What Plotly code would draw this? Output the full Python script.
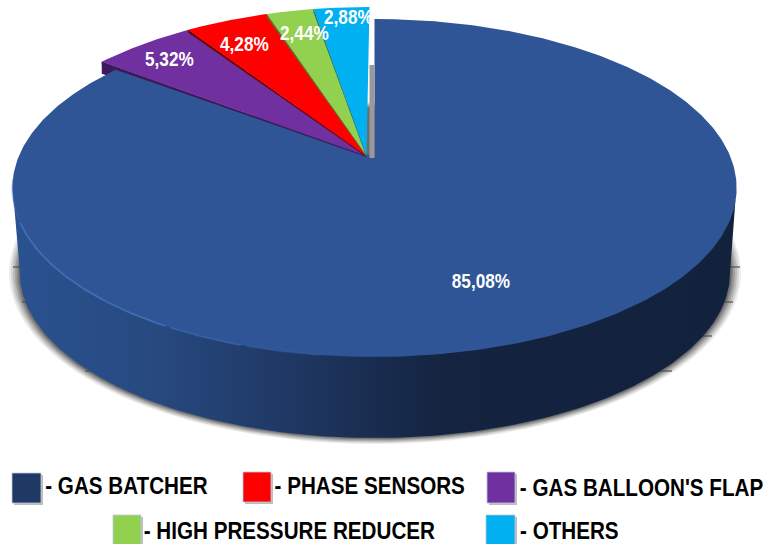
import numpy as np
import plotly.graph_objects as go

# ---- data (slices run anticlockwise from 12 o'clock)
categories = ["OTHERS", "HIGH PRESSURE REDUCER", "PHASE SENSORS", "GAS BALLOON'S FLAP"]
small_values = [2.88, 2.44, 4.28, 5.32]
main_value = 85.08
small_labels = ["2,88%", "2,44%", "4,28%", "5,32%"]
main_label = "85,08%"
small_colors = ["#00B0F0", "#92D050", "#FF0000", "#7030A0"]
small_edges = ["#00607F", "#4F7A28", "#7A0000", "#3C1A5C"]

legend_text = ["- GAS BATCHER", "- PHASE SENSORS", "- GAS BALLOON'S FLAP",
               "- HIGH PRESSURE REDUCER", "- OTHERS"]
legend_colors = ["#1F3864", "#FF0000", "#7030A0", "#92D050", "#00B0F0"]

# ---- projection of the disc (perspective view)
K = 0.1834
AX, BY = 356.0, 163.3
def proj(pct):
    t = np.radians(np.asarray(pct, float) * 3.6)
    u, v = -np.sin(t), np.cos(t)
    w = 1 + K * v
    return AX * u / w, -BY * v / w

HUB = (374.5, 157.0)
SMALL_HUB = (366.5, 156.0)
SX, SY, SKEW = 1.03, 1.08, 0.02

def wedge_xy(p0, p1):
    pc = np.linspace(p0, p1, 40)
    X, Y = proj(pc)
    x = SMALL_HUB[0] + SX * X - SKEW * SY * Y
    y = SMALL_HUB[1] + SY * Y
    return x, y

def poly(x, y, color, **kw):
    return go.Scatter(x=list(x), y=list(y), mode="lines", fill="toself", fillcolor=color,
                      line=dict(width=0, color=color), hoverinfo="skip", showlegend=False, **kw)

fig = go.Figure()

# soft shadow below the side wall
th = np.linspace(0, 2 * np.pi, 240)
BOT_C, BOT_R = (375.0, 273.0), (355.0, 165.0)
for grow, alpha in [(11, 0.10), (9, 0.14), (7, 0.18), (5, 0.25), (3, 0.3), (1.5, 0.35)]:
    fig.add_trace(poly(BOT_C[0] + (BOT_R[0] + grow) * np.cos(th),
                       BOT_C[1] + (BOT_R[1] + grow * 0.55) * np.sin(th),
                       f"rgba(70,70,70,{alpha})"))

# faint leftover grid ticks at the edges of the shadow (hidden behind the wall)
tick_rows = [(267, 13, 30, 720, 740), (302, 22, 40, 710, 733), (336, 47, 70, 680, 712), (371, 85, 115, 640, 672)]
shapes = []
for yy, a0, a1, b0, b1 in tick_rows:
    for p0, p1 in ((a0, a1), (b0, b1)):
        shapes.append(dict(type="line", x0=p0, x1=p1, y0=yy, y1=yy, xref="x", yref="y",
                           line=dict(color="rgba(0,0,0,0.8)", width=1), layer="below"))

# side wall with horizontal gradient
TOP_C, TOP_R = (374.5, 186.0), (362.0, 169.0)
a = np.linspace(np.pi, 0, 200)
wx = np.r_[TOP_C[0] + TOP_R[0] * np.cos(a), BOT_C[0] + BOT_R[0] * np.cos(a[::-1])]
wy = np.r_[TOP_C[1] + TOP_R[1] * np.sin(a), BOT_C[1] + BOT_R[1] * np.sin(a[::-1])]
fig.add_trace(go.Scatter(x=wx, y=wy, mode="lines", fill="toself", line=dict(width=0),
                         fillgradient=dict(type="horizontal",
                                           colorscale=[[0, "#2A5290"], [0.2, "#27497F"], [0.38, "#1F3864"],
                                                       [0.6, "#14233F"], [1, "#12223D"]]),
                         hoverinfo="skip", showlegend=False))

bounds = np.cumsum([0] + small_values)

# wall of the outermost slice, peeking out behind the main disc
ox, oy = wedge_xy(bounds[-1], bounds[-1])
fig.add_trace(poly([ox[0], ox[0], SMALL_HUB[0]], [oy[0], oy[0] + 12, SMALL_HUB[1]], small_edges[-1]))

# main slice top surface
pc = np.linspace(bounds[-1], bounds[-1] + main_value, 400)
X, Y = proj(pc)
fig.add_trace(poly(np.r_[HUB[0], HUB[0] + X, HUB[0]], np.r_[HUB[1], HUB[1] + Y, HUB[1]], "#2F5597"))

# lighter rim along the lower-left of the disc, fading at both ends
for lo, hi, col in [(27, 31, "rgba(63,109,181,0.4)"), (31, 42, "rgba(63,109,181,1)"),
                    (42, 45, "rgba(63,109,181,0.6)"), (45, 48, "rgba(63,109,181,0.3)")]:
    m = (pc >= lo) & (pc <= hi)
    fig.add_trace(go.Scatter(x=HUB[0] + X[m], y=HUB[1] + Y[m], mode="lines",
                             line=dict(color=col, width=1.8), hoverinfo="skip", showlegend=False))

# grey gap next to the main slice
fig.add_trace(poly([369.5, 374.5, 374.5, 369.5], [65, 65, 158, 158], "#999999"))

# small slices, back to front from the left
for i in range(len(small_values) - 1, -1, -1):
    x, y = wedge_xy(bounds[i], bounds[i + 1])
    fig.add_trace(poly(np.r_[SMALL_HUB[0], x], np.r_[SMALL_HUB[1], y], small_colors[i]))
    fig.add_trace(poly([SMALL_HUB[0], x[-1], x[-1], SMALL_HUB[0]],
                       [SMALL_HUB[1], y[-1], y[-1] + 3, SMALL_HUB[1] + 1], small_edges[i]))

# data labels
FONT = "Liberation Sans"
label_pos = [(348, 17), (304, 33), (244, 44), (169, 59)]
ann = [dict(x=px, y=py, text=f"<b>{t}</b>", showarrow=False, xref="x", yref="y",
            font=dict(family=FONT, size=20, color="white"))
       for (px, py), t in zip(label_pos, small_labels)]
ann.append(dict(x=481, y=281, text=f"<b>{main_label}</b>", showarrow=False, xref="x", yref="y",
                font=dict(family=FONT, size=20, color="white")))

# legend
swatch_boxes = [(12, 473, 41, 503), (243, 472, 271, 502), (487, 472, 515, 503),
                (113, 515, 141, 546), (486, 515, 515, 546)]
text_pos = [(126, 485), (369.5, 485), (641, 487), (289.5, 530.5), (569, 530.5)]
for (x0, y0, x1, y1), col in zip(swatch_boxes, legend_colors):
    shapes.append(dict(type="rect", x0=x0 + 2, y0=y0 + 2, x1=x1 + 2, y1=y1 + 2, xref="x", yref="y",
                       fillcolor="#BDBDBD", line=dict(width=0), layer="above"))
    shapes.append(dict(type="rect", x0=x0, y0=y0, x1=x1, y1=y1, xref="x", yref="y",
                       fillcolor=col, line=dict(width=1, color="rgba(190,200,220,0.8)"), layer="above"))
for (px, py), t in zip(text_pos, legend_text):
    ann.append(dict(x=px, y=py, text=f"<b>{t}</b>", showarrow=False, xanchor="center", xref="x", yref="y",
                    font=dict(family=FONT, size=24, color="black")))

fig.update_layout(width=763, height=544, margin=dict(l=0, r=0, t=0, b=0), autosize=False,
                  paper_bgcolor="white", plot_bgcolor="white", showlegend=False,
                  xaxis=dict(range=[0, 763], visible=False, fixedrange=True),
                  yaxis=dict(range=[544, 0], visible=False, fixedrange=True),
                  shapes=shapes, annotations=ann)

# remove the page margin and condense the annotation text (the reference uses a narrow face)
POST = """
document.body.style.margin = '0';
document.querySelectorAll('.annotation-text').forEach(function (t) {
  t.style.transformBox = 'fill-box';
  t.style.transformOrigin = 'center';
  t.style.transform = 'scaleX(0.86)';
});
"""
fig.write_html("out.html", config=dict(displayModeBar=False), post_script=POST)
